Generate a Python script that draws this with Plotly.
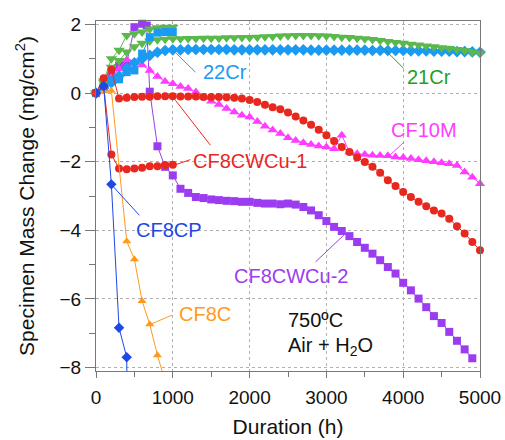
import plotly.graph_objects as go

# ---------------- data ----------------
hours_long = [0, 100, 200, 300, 400, 500, 600, 700, 800, 900, 1000, 1100, 1200, 1300, 1400, 1500,
              1600, 1700, 1800, 1900, 2000, 2100, 2200, 2300, 2400, 2500, 2600, 2700, 2800, 2900,
              3000, 3100, 3200, 3300, 3400, 3500, 3600, 3700, 3800, 3900, 4000, 4100, 4200, 4300,
              4400, 4500, 4600, 4700, 4800, 4900, 5000]
hours_short = [0, 100, 200, 300, 400, 500, 600, 700, 800, 900, 1000]

cr21_short = [0, 0.35, 1.0, 1.25, 1.68, 1.73, 1.78, 1.87, 1.9, 1.92, 1.92]
cr21_long = [0, 0.3, 0.75, 0.95, 1.2, 1.35, 1.45, 1.52, 1.55, 1.57, 1.58, 1.58, 1.59, 1.59, 1.6,
             1.6, 1.6, 1.61, 1.61, 1.62, 1.62, 1.63, 1.64, 1.65, 1.66, 1.67, 1.68, 1.68, 1.68,
             1.67, 1.66, 1.65, 1.63, 1.62, 1.6, 1.58, 1.56, 1.53, 1.5, 1.47, 1.45, 1.42, 1.4,
             1.37, 1.35, 1.32, 1.3, 1.27, 1.24, 1.2, 1.16]

cr22_short = [0, 0.17, 0.37, 0.40, 0.61, 0.66, 1.15, 1.63, 1.76, 1.78, 1.78]
cr22_long = [0, 0.15, 0.3, 0.5, 0.72, 0.88, 1.0, 1.1, 1.19, 1.24, 1.26, 1.26, 1.27, 1.27, 1.27,
             1.27, 1.27, 1.27, 1.26, 1.26, 1.26, 1.26, 1.26, 1.26, 1.26, 1.26, 1.26, 1.26, 1.25,
             1.25, 1.25, 1.25, 1.25, 1.25, 1.25, 1.25, 1.24, 1.24, 1.24, 1.24, 1.24, 1.23, 1.23,
             1.23, 1.22, 1.22, 1.22, 1.21, 1.21, 1.2, 1.19]

cf8cwcu1_long = [0, 0.43, 0.68, -0.16, -0.135, -0.115, -0.11, -0.11, -0.096, -0.096, -0.096,
                 -0.1, -0.1, -0.1, -0.115, -0.115, -0.115, -0.125, -0.135, -0.16, -0.2, -0.26,
                 -0.34, -0.41, -0.47, -0.57, -0.68, -0.8, -0.92, -1.07, -1.23, -1.4, -1.57,
                 -1.72, -1.88, -2.01, -2.15, -2.32, -2.54, -2.71, -2.88, -3.03, -3.17, -3.3,
                 -3.42, -3.51, -3.66, -3.88, -4.09, -4.34, -4.58]
cf8cwcu1_short = [0, 0.2, -1.79, -2.2, -2.22, -2.2, -2.18, -2.13, -2.13, -2.1, -2.09]

cf10m = [0, 0.2, 0.45, 0.7, 0.97, 0.9, 0.82, 0.66, 0.48, 0.34, 0.27, 0.19, 0.13, 0.03, -0.12,
         -0.24, -0.33, -0.45, -0.55, -0.65, -0.7, -0.83, -0.97, -1.08, -1.18, -1.3, -1.38,
         -1.45, -1.5, -1.54, -1.57, -1.62, -1.23, -1.72, -1.77, -1.79, -1.81, -1.82, -1.83,
         -1.86, -1.88, -1.91, -1.94, -1.97, -2.0, -2.03, -2.06, -2.11, -2.3, -2.45, -2.64]

cf8cwcu2_hours = [0, 100, 200, 300, 400, 500, 600, 660, 700, 800, 900, 1000, 1100, 1200, 1300,
                  1400, 1500, 1600, 1700, 1800, 1900, 2000, 2100, 2200, 2300, 2400, 2500, 2600,
                  2700, 2800, 2900, 3000, 3100, 3200, 3300, 3400, 3500, 3600, 3700, 3800, 3900,
                  4000, 4100, 4200, 4300, 4400, 4500, 4600, 4700, 4800, 4900]
cf8cwcu2 = [0, 0.2, 0.5, 0.8, 0.87, 1.92, 2.02, 1.97, 0.04, -1.55, -2.15, -2.4, -2.79, -2.91,
            -3.03, -3.06, -3.1, -3.12, -3.14, -3.15, -3.17, -3.17, -3.2, -3.22, -3.22, -3.24,
            -3.22, -3.25, -3.32, -3.42, -3.56, -3.73, -3.9, -4.02, -4.17, -4.34, -4.51, -4.68,
            -4.87, -5.07, -5.26, -5.53, -5.75, -5.99, -6.24, -6.5, -6.7, -6.96, -7.22, -7.47,
            -7.73]

cf8cp_hours = [0, 100, 200, 300, 400, 410]
cf8cp = [0, 0.2, -2.66, -6.84, -7.7, -10.0]

cf8c_hours = [0, 100, 200, 400, 500, 600, 700, 800, 900]
cf8c = [0, 0.05, 0.07, -4.32, -4.84, -6.06, -6.74, -7.64, -8.4]

x_ticks = [0, 1000, 2000, 3000, 4000, 5000]
y_ticks = [-8, -6, -4, -2, 0, 2]

# ---------------- styles ----------------
C_GREEN = "#5ab84c"
C_GREEN_TXT = "#22a024"
C_LBLUE = "#1a9af0"
C_RED = "#e8281e"
C_MAG = "#ff3cff"
C_PURP = "#9b3cf0"
C_BLUE = "#1e48e6"
C_ORANGE = "#ff9a1e"
FONT = "Liberation Sans, Arial, Helvetica, sans-serif"

fig = go.Figure()


def add(x, y, color, symbol, size, clip=False):
    fig.add_trace(go.Scatter(
        x=x, y=y, mode="lines+markers",
        line=dict(color=color, width=1),
        marker=dict(color=color, symbol=symbol, size=size, line=dict(width=0)),
        cliponaxis=clip, showlegend=False, hoverinfo="skip"))


add(cf8cwcu2_hours, cf8cwcu2, C_PURP, "square", 8)
add(hours_long, cf10m, C_MAG, "triangle-up", 9)
add(hours_long, cr22_long, C_LBLUE, "diamond", 9)
add(hours_long, cr21_long, C_GREEN, "triangle-down", 10)
add(hours_short, cr21_short, C_GREEN, "triangle-down", 10)
add(hours_short, cr22_short, C_LBLUE, "square", 8)
add(hours_long, cf8cwcu1_long, C_RED, "circle", 8)
add(hours_short, cf8cwcu1_short, C_RED, "circle", 8)
add(cf8c_hours, cf8c, C_ORANGE, "triangle-up", 8, clip=True)
add(cf8cp_hours, cf8cp, C_BLUE, "diamond", 8, clip=True)

# leader lines (data coordinates)
leaders = [
    (1008, 1.24, 1294, 0.61, C_LBLUE),
    (3706, 1.39, 4006, 0.72, C_GREEN_TXT),
    (3797, -1.87, 4006, -1.44, C_MAG),
    (1008, -2.11, 1229, -1.94, C_RED),
    (1034, -0.21, 1490, -1.52, C_RED),
    (209, -2.69, 564, -3.56, C_BLUE),
    (708, -6.74, 991, -6.47, C_ORANGE),
    (2859, -4.92, 3227, -4.14, C_PURP),
]
for x0, y0, x1, y1, c in leaders:
    fig.add_shape(type="line", xref="x", yref="y", x0=x0, y0=y0, x1=x1, y1=y1,
                  line=dict(color=c, width=1))

labels = [
    ("22Cr", 1686, 0.60, C_LBLUE, "center"),
    ("21Cr", 4332, 0.46, C_GREEN_TXT, "center"),
    ("CF10M", 4267, -1.09, C_MAG, "center"),
    ("CF8CWCu-1", 2011, -1.99, C_RED, "center"),
    ("CF8CP", 955, -4.0, C_BLUE, "center"),
    ("CF8C", 1425, -6.45, C_ORANGE, "center"),
    ("CF8CWCu-2", 2533, -5.32, C_PURP, "center"),
    ("750ºC", 2468, -6.62, "#111111", "left"),
    ("Air + H<sub>2</sub>O", 2468, -7.38, "#111111", "left"),
]
for t, x, y, c, anc in labels:
    fig.add_annotation(text=t, x=x, y=y, xref="x", yref="y", showarrow=False,
                       xanchor=anc, yanchor="middle",
                       font=dict(family=FONT, size=20, color=c))

axis_common = dict(
    showline=True, linecolor="#777777", linewidth=1, mirror=True,
    ticks="outside", tickcolor="#777777",
    showgrid=True, gridcolor="#b0b0b0", griddash="dot", gridwidth=1,
    zeroline=False, automargin=False,
    tickfont=dict(family=FONT, size=19, color="#111111"),
)

fig.update_xaxes(range=[0, 5000], tickvals=x_ticks, ticklen=6, ticklabelstandoff=3,
                 minor=dict(dtick=500, ticks="outside", ticklen=5, tickcolor="#777777",
                            showgrid=False),
                 title=dict(text="Duration (h)", font=dict(family=FONT, size=21, color="#111111"),
                            standoff=12),
                 **axis_common)
fig.update_yaxes(range=[-8.1, 2.1], tickvals=y_ticks, ticklen=10,
                 minor=dict(dtick=1, ticks="outside", ticklen=6, tickcolor="#777777",
                            showgrid=False),
                 title=dict(text="Specimen Mass Change (mg/cm<sup>2</sup>)",
                            font=dict(family=FONT, size=21, color="#111111"), standoff=19),
                 **axis_common)

fig.update_layout(
    width=505, height=440,
    margin=dict(l=96, r=25, t=21, b=69),
    paper_bgcolor="white", plot_bgcolor="white",
    font=dict(family=FONT),
)

# remove the default page margin so the figure fills the window exactly
fig.write_html("out.html",
               config={"displayModeBar": False},
               post_script="document.body.style.margin='0';document.body.style.overflow='hidden';")
